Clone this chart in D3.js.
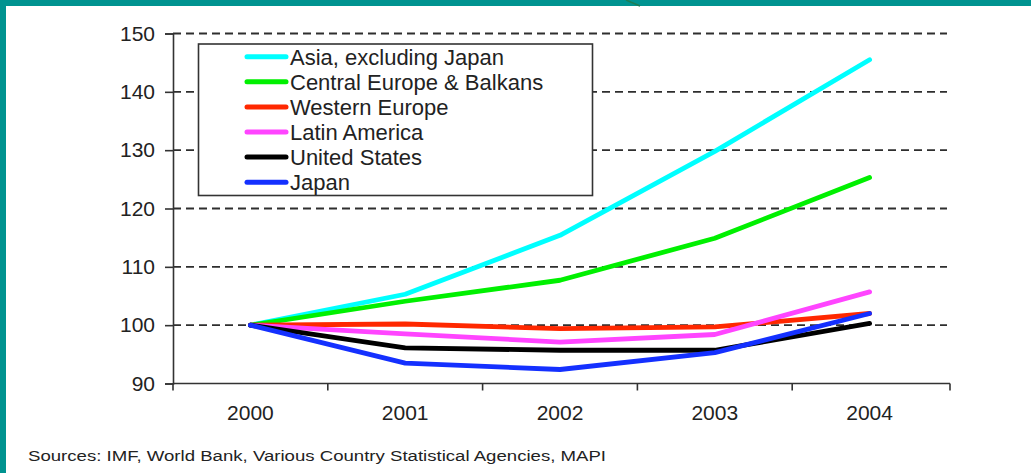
<!DOCTYPE html>
<html>
<head>
<meta charset="utf-8">
<script src="https://cdn.jsdelivr.net/npm/d3@7"></script>
<style>
  html, body { margin: 0; padding: 0; background: #fff; }
  svg { display: block; font-family: Arial, "Liberation Sans", sans-serif; }
</style>
</head>
<body>
<svg id="chart" width="1031" height="473"></svg>
<script>
// Index of economic growth, 2000 = 100
const years = ["2000", "2001", "2002", "2003", "2004"];
const seriesNames = ["Asia, excluding Japan", "Central Europe & Balkans", "Western Europe", "Latin America", "United States", "Japan"];
const asia = [100, 105.3, 115.4, 129.8, 145.5];
const centralEurope = [100, 104.1, 107.7, 114.9, 125.3];
const westernEurope = [100, 100.2, 99.4, 99.7, 102.0];
const latinAmerica = [100, 98.5, 97.1, 98.4, 105.7];
const unitedStates = [100, 96.1, 95.7, 95.7, 100.3];
const japan = [100, 93.5, 92.4, 95.3, 102.0];
const seriesColors = ["#00ffff", "#00f000", "#ff2800", "#ff45ff", "#000000", "#1430ff"];
const yTicks = [90, 100, 110, 120, 130, 140, 150];
const sourceNote = "Sources:  IMF, World Bank, Various Country Statistical Agencies, MAPI";

const seriesValues = [asia, centralEurope, westernEurope, latinAmerica, unitedStates, japan];
const series = seriesNames.map((name, i) => ({ name, color: seriesColors[i], values: seriesValues[i] }));

const svg = d3.select("#chart");

// slide frame
svg.append("rect").attr("x", 0).attr("y", 0).attr("width", 1031).attr("height", 6).attr("fill", "#009390");
svg.append("rect").attr("x", 0).attr("y", 0).attr("width", 6).attr("height", 473).attr("fill", "#009390");
svg.append("line").attr("x1", 626).attr("y1", 0).attr("x2", 640).attr("y2", 6)
  .attr("stroke", "#1c7d55").attr("stroke-width", 1.5);

const plotLeft = 173, plotRight = 947, plotTop = 33.5, plotBottom = 383.5;

const x = d3.scaleBand().domain(years).range([plotLeft, plotRight]);
const y = d3.scaleLinear().domain([90, 150]).range([plotBottom, plotTop]);

// dashed gridlines
svg.append("g").selectAll("line")
  .data(yTicks.filter(t => t > 90))
  .join("line")
  .attr("x1", plotLeft).attr("x2", plotRight)
  .attr("y1", d => y(d)).attr("y2", d => y(d))
  .attr("stroke", "#2e2e2e").attr("stroke-width", 1.8)
  .attr("stroke-dasharray", "8,5");

// y axis
const yAxis = svg.append("g")
  .attr("transform", `translate(${plotLeft},0)`)
  .call(d3.axisLeft(y).tickValues(yTicks).tickSize(8).tickPadding(10));
yAxis.select(".domain").attr("stroke", "#333").attr("stroke-width", 1.6);
yAxis.selectAll(".tick line").attr("stroke", "#333").attr("stroke-width", 1.6);
yAxis.selectAll("text").attr("font-size", 21).attr("fill", "#222")
  .attr("font-family", "Arial, 'Liberation Sans', sans-serif");

// x axis: ticks on category boundaries
const xAxis = svg.append("g").attr("transform", `translate(0,${plotBottom})`);
xAxis.append("line").attr("x1", plotLeft).attr("x2", plotRight + 3).attr("y1", 0).attr("y2", 0)
  .attr("stroke", "#333").attr("stroke-width", 1.6);
const boundaries = years.map(d => x(d)).concat([plotRight + 3]);
xAxis.selectAll("line.tk").data(boundaries).join("line").attr("class", "tk")
  .attr("x1", d => d).attr("x2", d => d).attr("y1", 0).attr("y2", 7)
  .attr("stroke", "#333").attr("stroke-width", 1.6);
xAxis.selectAll("text").data(years).join("text")
  .attr("x", d => x(d) + x.bandwidth() / 2).attr("y", 36)
  .attr("text-anchor", "middle").attr("font-size", 21).attr("fill", "#222")
  .text(d => d);

// series lines, drawn in legend order so Japan sits on top
const line = d3.line()
  .x((d, i) => x(years[i]) + x.bandwidth() / 2)
  .y(d => y(d));

svg.append("g").selectAll("path")
  .data(series)
  .join("path")
  .attr("d", d => line(d.values))
  .attr("fill", "none")
  .attr("stroke", d => d.color)
  .attr("stroke-width", 4.8)
  .attr("stroke-linecap", "round")
  .attr("stroke-linejoin", "round");

// legend
const legend = svg.append("g");
legend.append("rect").attr("x", 198.5).attr("y", 44).attr("width", 394).attr("height", 151.5)
  .attr("fill", "#fff").attr("stroke", "#333").attr("stroke-width", 1.6);
const rows = legend.selectAll("g.row").data(series).join("g").attr("class", "row")
  .attr("transform", (d, i) => `translate(0,${56.7 + i * 25.1})`);
rows.append("line").attr("x1", 247).attr("x2", 286).attr("y1", 0).attr("y2", 0)
  .attr("stroke", d => d.color).attr("stroke-width", 5).attr("stroke-linecap", "round");
rows.append("text").attr("x", 290).attr("y", 7.8)
  .attr("font-size", 22).attr("fill", "#222").text(d => d.name);

// source note
svg.append("text").attr("x", 28).attr("y", 461)
  .attr("font-size", 14).attr("fill", "#222")
  .attr("textLength", 578).attr("lengthAdjust", "spacingAndGlyphs")
  .text(sourceNote);
</script>
</body>
</html>
